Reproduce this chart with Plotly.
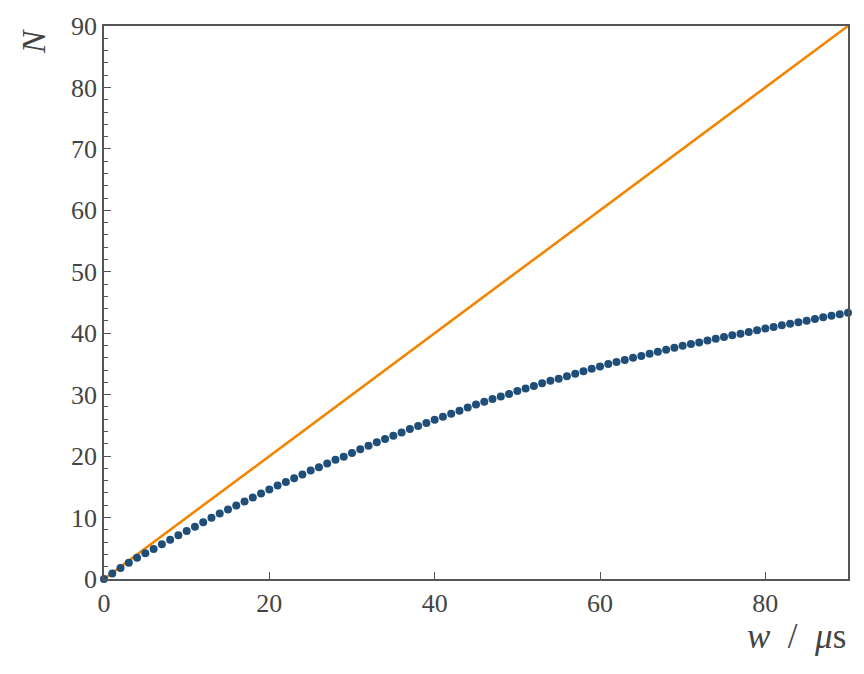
import plotly.graph_objects as go

w_points = list(range(0, 91))
N_points = [
    0.0, 0.9, 1.8, 2.65, 3.45, 4.2, 4.9, 5.65, 6.4, 7.1, 7.8,
    8.5, 9.25, 9.95, 10.65, 11.3, 11.95, 12.6, 13.25, 13.9, 14.55,
    15.2, 15.8, 16.4, 17.0, 17.65, 18.2, 18.8, 19.4, 19.9, 20.5,
    21.1, 21.7, 22.25, 22.8, 23.3, 23.85, 24.4, 24.9, 25.4, 25.9,
    26.4, 26.9, 27.4, 27.9, 28.4, 28.85, 29.3, 29.7, 30.1, 30.6,
    31.0, 31.4, 31.85, 32.25, 32.6, 33.0, 33.4, 33.8, 34.2, 34.6,
    35.0, 35.3, 35.65, 36.0, 36.3, 36.65, 37.0, 37.3, 37.65, 37.95,
    38.25, 38.5, 38.8, 39.1, 39.4, 39.65, 39.9, 40.2, 40.5, 40.75,
    41.0, 41.3, 41.55, 41.8, 42.05, 42.3, 42.6, 42.85, 43.1, 43.35,
]
line_w = [0, 90]
line_N = [0, 90]

x_ticks = [0, 20, 40, 60, 80]
y_ticks = [0, 10, 20, 30, 40, 50, 60, 70, 80, 90]

FONT = "Liberation Serif"
GRAY = "#444444"
AX = "#555555"

fig = go.Figure()
fig.add_trace(go.Scatter(x=line_w, y=line_N, mode="lines",
                         line=dict(color="#f28500", width=2.6), showlegend=False))
fig.add_trace(go.Scatter(x=w_points, y=N_points, mode="markers",
                         marker=dict(color="#1f4e79", size=8, line=dict(width=0)),
                         showlegend=False, cliponaxis=False))

fig.update_layout(
    width=864, height=674,
    margin=dict(l=104, r=16, t=24, b=95),
    plot_bgcolor="white", paper_bgcolor="white",
    font=dict(family=FONT, size=26, color=GRAY),
    xaxis=dict(range=[0, 90], tickvals=x_ticks, ticks="inside", ticklen=7, tickwidth=1.2,
               tickcolor=AX, showline=True, linecolor=AX, linewidth=1.5, mirror=True,
               showgrid=False, zeroline=False, tickfont=dict(size=26, color=GRAY, family=FONT)),
    yaxis=dict(range=[0, 90], tickvals=y_ticks, ticks="inside", ticklen=7, tickwidth=1.2,
               tickcolor=AX, showline=True, linecolor=AX, linewidth=1.5, mirror=True,
               showgrid=False, zeroline=False, tickfont=dict(size=26, color=GRAY, family=FONT),
               minor=dict(dtick=2, ticks="inside", ticklen=4, tickwidth=1, tickcolor=AX, showgrid=False)),
)
fig.add_annotation(text="<i>N</i>", xref="paper", yref="paper", x=-0.095, y=1.0,
                   xanchor="center", yanchor="top", textangle=-90, showarrow=False,
                   font=dict(size=34, color=GRAY, family=FONT))
fig.add_annotation(text="<i>w</i>  /  <i>μ</i>s", xref="paper", yref="paper", x=1.0, y=-0.065,
                   xanchor="right", yanchor="top", showarrow=False,
                   font=dict(size=35, color=GRAY, family=FONT))

fig.write_html("out.html")
